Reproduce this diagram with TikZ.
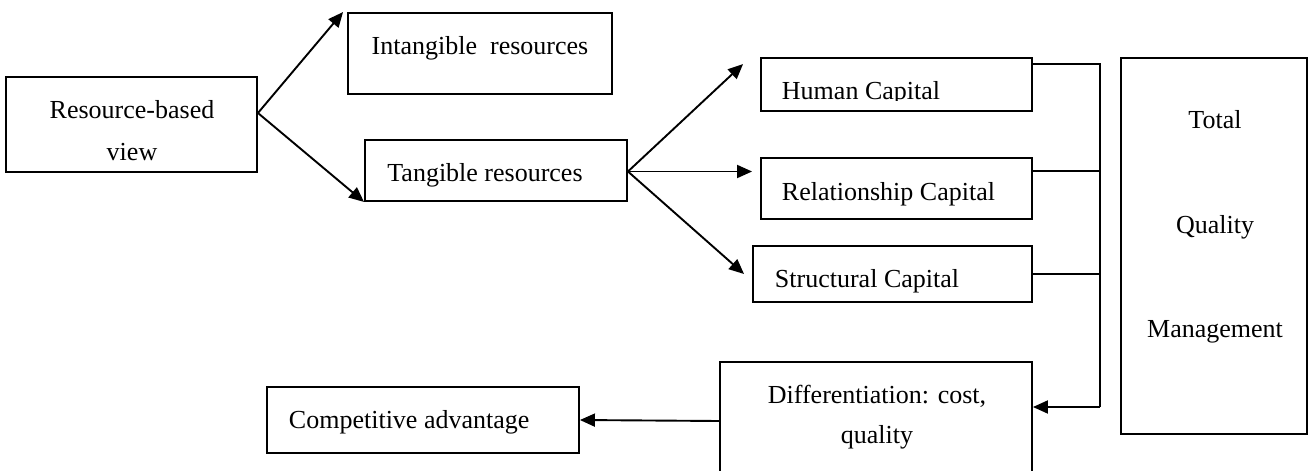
\documentclass[tikz,border=0pt]{standalone}
\usepackage{fontspec}
\setmainfont{Liberation Serif}
\usepackage{tikz}
\usetikzlibrary{arrows.meta,calc}

\begin{document}
\begin{tikzpicture}
[x=1pt,y=-1pt,>={Triangle[length=15pt,width=13pt]},line width=1.9pt,
 box/.style={draw,inner sep=0pt},
 txt/.style={inner sep=0pt,font=\fontsize{26}{42}\selectfont,align=center}]

\useasboundingbox (0,0) rectangle (1309,471);

% the boxes
\node[box,minimum width=251pt,minimum height=95pt] (rbv) at (131.5,124.5) {};
\node[box,minimum width=264pt,minimum height=81pt] (intang) at (480,53.5) {};
\node[box,minimum width=262pt,minimum height=61pt] (tang) at (496,170.5) {};
\node[box,minimum width=271pt,minimum height=53pt] (human) at (896.5,84.5) {};
\node[box,minimum width=271pt,minimum height=61pt] (relat) at (896.5,188.5) {};
\node[box,minimum width=279pt,minimum height=56pt] (struct) at (892.5,274) {};
\node[box,minimum width=186pt,minimum height=376pt] (tqm) at (1214,246) {};
\node[box,minimum width=312pt,minimum height=118pt] (diff) at (876,421) {};
\node[box,minimum width=312pt,minimum height=66pt] (comp) at (423,420) {};

% the texts
\node[txt] (rbvtext) at (132,131) {Resource-based\\view};
\node[txt,anchor=base] (intangtext) at (480,54) {Intangible\ \ resources};
\node[txt,anchor=base] (tangtext) at (485,181) {Tangible resources};
\begin{scope}
\clip (761,58) rectangle (1032,100);
\node[txt,anchor=base west] (humantext) at (781,99) {Human Capital};
\end{scope}
\node[txt,anchor=base west] (relattext) at (781,200) {Relationship Capital};
\node[txt,anchor=base west] (structtext) at (774,287) {Structural Capital};
\node[txt,anchor=base] (tqmA) at (1215,128) {Total};
\node[txt,anchor=base] (tqmB) at (1215,233) {Quality};
\node[txt,anchor=base] (tqmC) at (1215,337) {Management};
\node[txt,anchor=base] (difftextA) at (877,403) {Differentiation: cost,};
\node[txt,anchor=base] (difftextB) at (877,443) {quality};
\node[txt,anchor=base west] (comptext) at (288,428) {Competitive advantage};

% the arrows
\draw[->] ([yshift=11.5pt]rbv.east) -- ([xshift=-4pt]intang.north west);
\draw[->] ([yshift=11.5pt]rbv.east) -- (tang.south west);
\draw[->] ([yshift=-1pt]tang.east) -- ([xshift=-17pt,yshift=-7pt]human.north west);
\draw[->] ([yshift=-1pt]tang.east) -- ([xshift=-8pt,yshift=-1pt]tang.east -| relat.west);
\draw[->] ([yshift=-1pt]tang.east) -- ([xshift=-8pt]struct.west);

% the lines to the bus
\coordinate (bustop) at (1100,64);
\coordinate (busbot) at (1100,407);
\draw (human.east |- bustop) -- (bustop) -- (busbot);
\draw ([yshift=-14pt]relat.north east) coordinate (r1) -- (r1 -| bustop);
\draw (struct.east) -- (struct.east -| bustop);
\draw[->] (busbot) -- (busbot -| diff.east);
\draw[->] (diff.west) -- (comp.east);

\end{tikzpicture}
\end{document}
